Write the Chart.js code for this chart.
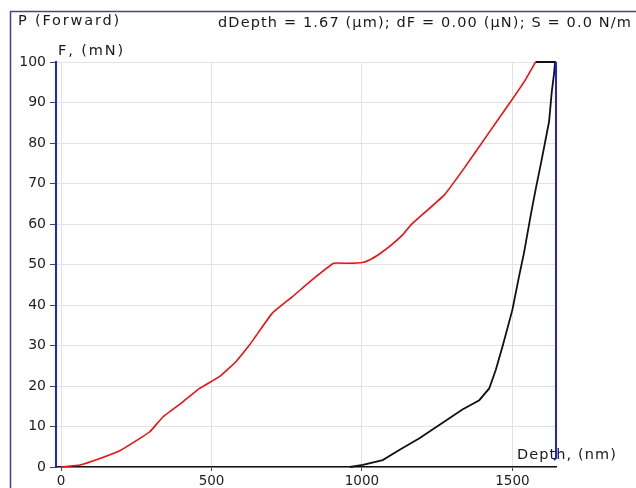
<!DOCTYPE html>
<html>
<head>
<meta charset="utf-8">
<script src="https://cdn.jsdelivr.net/npm/chart.js@4"></script>
<style>
	html, body { margin: 0; padding: 0; background: #fff; }
	#wrap { width: 636px; height: 488px; position: relative; }
</style>
</head>
<body>
<div id="wrap"><canvas id="curve"></canvas></div>
<script>
// loading branch (red)
const loadDepth = [0, 63, 129, 195, 250, 295, 339, 405, 460, 526, 581, 626, 647, 702, 768, 834, 906, 950, 1002, 1025, 1058, 1091, 1135, 1163, 1274, 1340, 1417, 1494, 1539, 1577]
const loadForce = [0, 0.5, 2.1, 4.0, 6.5, 8.7, 12.4, 16.1, 19.4, 22.3, 26.0, 30.1, 32.3, 38, 42, 46.2, 50.3, 50.3, 50.5, 51.1, 52.6, 54.4, 57.3, 59.8, 67.2, 73.8, 82, 90.2, 95.1, 100]

// hold + unloading branch (black)
const unloadDepth = [1577, 1642, 1638, 1631, 1622, 1609, 1594, 1578, 1561, 1539, 1522, 1500, 1467, 1445, 1423, 1390, 1334, 1257, 1191, 1124, 1069, 1003, 960]
const unloadForce = [100, 100, 96.8, 92.7, 85.3, 80.3, 74.6, 68.8, 62.2, 53, 47, 38.8, 29.7, 24, 19.4, 16.5, 14.2, 10.4, 7.1, 4.2, 1.7, 0.5, 0]

const depthTicks = [0, 500, 1000, 1500]
const forceTicks = [0, 10, 20, 30, 40, 50, 60, 70, 80, 90, 100]

const toPoints = (xs, ys) => xs.map((x, i) => ({ x: x, y: ys[i] }))

Chart.defaults.font.family = "DejaVu Sans"
Chart.defaults.font.size = 13.5
Chart.defaults.color = "#222"

// text with spread letters, stretched to the width it has in the original
function spreadText(ctx, text, x, y, width) {
	ctx.letterSpacing = "0px"
	const w = ctx.measureText(text).width
	ctx.letterSpacing = ((width - w) / text.length) + "px"
	ctx.fillText(text, x, y)
}

const decor = {
	id: "decor",
	beforeDraw(chart) {
		const ctx = chart.ctx
		ctx.save()
		ctx.strokeStyle = "#45457e"
		ctx.lineWidth = 1.5
		ctx.beginPath()
		ctx.moveTo(10.5, 488)
		ctx.lineTo(10.5, 11.5)
		ctx.lineTo(636, 11.5)
		ctx.stroke()
		ctx.restore()
	},
	afterDraw(chart) {
		const ctx = chart.ctx
		const a = chart.chartArea
		ctx.save()
		ctx.strokeStyle = "#2020ee"
		ctx.lineWidth = 2
		ctx.beginPath()
		ctx.moveTo(a.right, a.top)
		ctx.lineTo(a.right, a.bottom - 9)
		ctx.lineTo(a.right - 2, a.bottom - 7)
		ctx.stroke()

		ctx.fillStyle = "#1a1a1a"
		ctx.textBaseline = "middle"
		ctx.font = "14.5px 'DejaVu Sans'"
		spreadText(ctx, "P (Forward)", 18, 21, 103)
		spreadText(ctx, "dDepth = 1.67 (\u00b5m); dF = 0.00 (\u00b5N); S = 0.0 N/m", 218, 23, 414)
		spreadText(ctx, "F, (mN)", 58, 51, 67)
		spreadText(ctx, "Depth, (nm)", 517, 455, 100)
		ctx.restore()
	}
}

const curveChart = new Chart(
	document.getElementById("curve"),
	{
		type: "scatter",
		data: {
			datasets: [{
				label: "Loading",
				data: toPoints(loadDepth, loadForce),
				showLine: true,
				borderColor: "#ee1111",
				borderWidth: 1.6,
				tension: 0.1,
				pointRadius: 0,
				clip: false
			}, {
				label: "Unloading",
				data: toPoints(unloadDepth, unloadForce),
				showLine: true,
				borderColor: "#111",
				borderWidth: 1.8,
				pointRadius: 0,
				clip: false
			}]
		},
		options: {
			responsive: true,
			maintainAspectRatio: false,
			animation: false,
			layout: { padding: { top: 62, right: 80, left: 0, bottom: 0 } },
			plugins: {
				legend: { display: false },
				tooltip: { enabled: false }
			},
			scales: {
				x: {
					type: "linear",
					min: -17,
					max: 1645,
					afterBuildTicks: scale => { scale.ticks = depthTicks.map(v => ({ value: v })) },
					afterFit: scale => { scale.height = 21 },
					ticks: { padding: 2, maxRotation: 0, callback: v => String(v) },
					grid: { color: "#e2e2e2", tickColor: "#444", tickLength: 4 },
					border: { color: "#111", width: 1.5 }
				},
				y: {
					min: 0,
					max: 100,
					afterBuildTicks: scale => { scale.ticks = forceTicks.map(v => ({ value: v })) },
					afterFit: scale => { scale.width = 56 },
					ticks: { padding: 4, font: { size: 14 }, callback: v => String(v) },
					grid: { color: "#e2e2e2", tickColor: "#444", tickLength: 6 },
					border: { color: "#2020ee", width: 2 }
				}
			}
		},
		plugins: [decor]
	}
)
</script>
</body>
</html>
